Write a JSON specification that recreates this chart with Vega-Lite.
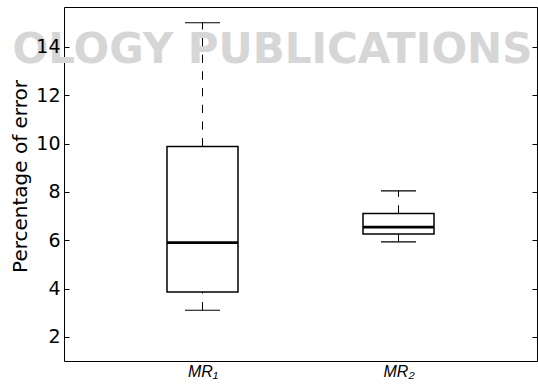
{
  "$schema": "https://vega.github.io/schema/vega-lite/v6.json",
  "width": 473,
  "height": 354,
  "autosize": {"type": "none"},
  "padding": {"left": 64, "top": 7, "right": 1, "bottom": 27},
  "background": "white",
  "config": {
    "view": {"stroke": "black", "strokeWidth": 1},
    "font": "Liberation Sans"
  },
  "data": {
    "values": [
      {"method": "MR₁", "lower": 3.1, "q1": 3.86, "median": 5.9, "q3": 9.88, "upper": 15.0},
      {"method": "MR₂", "lower": 5.93, "q1": 6.26, "median": 6.54, "q3": 7.1, "upper": 8.04}
    ]
  },
  "encoding": {
    "x": {"field": "method", "type": "nominal", "sort": null, "scale": {"type": "point", "padding": 0.7066},
      "axis": {"title": null, "ticks": false, "domain": false, "grid": false, "labelAngle": 0, "labelFont": "Liberation Sans", "labelFontStyle": "italic", "labelFontSize": 16, "labelColor": "black", "labelPadding": 2}}
  },
  "layer": [
    {
      "data": {"values": [{"mark_text": "OLOGY PUBLICATIONS"}]},
      "mark": {"type": "text", "font": "DejaVu Sans", "fontWeight": "bold", "fontSize": 42, "color": "#d6d6d6", "align": "center", "baseline": "middle", "dx": -28},
      "encoding": {
        "x": null,
        "text": {"field": "mark_text", "type": "nominal"},
        "y": {"datum": 13.87, "type": "quantitative", "scale": {"domain": [1, 15.65], "nice": false, "zero": false}, "axis": null}
      }
    },
    {
      "mark": {"type": "rule", "color": "black", "strokeWidth": 1, "strokeDash": [8.3, 8.4]},
      "encoding": {
        "y": {"field": "q3", "type": "quantitative", "scale": {"domain": [1, 15.65], "nice": false, "zero": false},
          "axis": {"title": "Percentage of error", "values": [2, 4, 6, 8, 10, 12, 14], "grid": false, "domain": false, "zindex": 2, "tickSize": -5, "tickColor": "black", "tickWidth": 1, "labelFont": "DejaVu Sans", "labelFontSize": 19, "labelColor": "black", "labelPadding": 9, "titleFont": "DejaVu Sans", "titleFontSize": 20, "titleFontWeight": "normal", "titleColor": "black", "titlePadding": 5, "titleY": 169}},
        "y2": {"field": "upper"}
      }
    },
    {
      "mark": {"type": "rule", "color": "black", "strokeWidth": 1, "strokeDash": [8.3, 8.4]},
      "encoding": {
        "y": {"field": "lower", "type": "quantitative", "scale": {"domain": [1, 15.65], "nice": false, "zero": false}, "axis": null},
        "y2": {"field": "q1"}
      }
    },
    {
      "mark": {"type": "bar", "fill": "white", "stroke": "black", "strokeWidth": 1.5, "size": 71},
      "encoding": {
        "y": {"field": "q1", "type": "quantitative", "scale": {"domain": [1, 15.65], "nice": false, "zero": false},
          "axis": {"orient": "right", "title": null, "labels": false, "values": [2, 4, 6, 8, 10, 12, 14], "grid": false, "domain": false, "zindex": 2, "tickSize": -5, "tickColor": "black", "tickWidth": 1}},
        "y2": {"field": "q3"}
      }
    },
    {
      "mark": {"type": "tick", "color": "black", "opacity": 1, "thickness": 2.8, "size": 71},
      "encoding": {
        "y": {"field": "median", "type": "quantitative", "scale": {"domain": [1, 15.65], "nice": false, "zero": false}, "axis": null}
      }
    },
    {
      "mark": {"type": "tick", "color": "black", "opacity": 1, "thickness": 1.1, "size": 35},
      "encoding": {
        "y": {"field": "upper", "type": "quantitative", "scale": {"domain": [1, 15.65], "nice": false, "zero": false}, "axis": null}
      }
    },
    {
      "mark": {"type": "tick", "color": "black", "opacity": 1, "thickness": 1.1, "size": 35},
      "encoding": {
        "y": {"field": "lower", "type": "quantitative", "scale": {"domain": [1, 15.65], "nice": false, "zero": false}, "axis": null}
      }
    }
  ],
  "resolve": {"axis": {"y": "independent"}}
}
